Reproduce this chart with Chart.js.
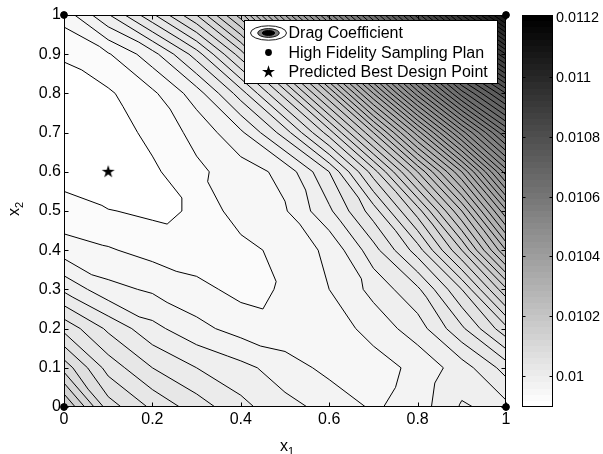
<!DOCTYPE html>
<html>
<head>
<meta charset="utf-8">
<script src="https://cdn.jsdelivr.net/npm/chart.js@4.4.1/dist/chart.umd.min.js"></script>
<style>
  html, body { margin: 0; padding: 0; background: #fff; }
  #wrap { width: 603px; height: 454px; }
</style>
</head>
<body>
<div id="wrap"><canvas id="cdChart" width="603" height="454"></canvas></div>
<script>
/* ── Data ───────────────────────────────────────────────────── */

// Kriging grid for the drag coefficient, one row per x2 value (x2 = 0 first)
const gridX = [0, 0.1, 0.2, 0.3, 0.4, 0.5, 0.6, 0.7, 0.8, 0.9, 1];
const gridY = [0, 0.1, 0.2, 0.3, 0.4, 0.5, 0.6, 0.7, 0.8, 0.9, 1];
const cdRows = [
  [0.010184, 0.010090, 0.010056, 0.010030, 0.010006, 0.009986, 0.009974, 0.009957, 0.009970, 0.010002, 0.009994],
  [0.010112, 0.010052, 0.010020, 0.010000, 0.009986, 0.009970, 0.009954, 0.009950, 0.009966, 0.009990, 0.010028],
  [0.010054, 0.010016, 0.009986, 0.009966, 0.009952, 0.009946, 0.009948, 0.009968, 0.009990, 0.010036, 0.010094],
  [0.009996, 0.009966, 0.009957, 0.009946, 0.009934, 0.009942, 0.009960, 0.009986, 0.010016, 0.010080, 0.010176],
  [0.009950, 0.009942, 0.009933, 0.009928, 0.009932, 0.009948, 0.009964, 0.010012, 0.010070, 0.010160, 0.010280],
  [0.009926, 0.009921, 0.009916, 0.009922, 0.009952, 0.009958, 0.009996, 0.010050, 0.010130, 0.010240, 0.010376],
  [0.009914, 0.009900, 0.009916, 0.009936, 0.009950, 0.009966, 0.010020, 0.010110, 0.010220, 0.010340, 0.010490],
  [0.009910, 0.009908, 0.009926, 0.009946, 0.009976, 0.010030, 0.010110, 0.010220, 0.010350, 0.010490, 0.010620],
  [0.009912, 0.009917, 0.009936, 0.009970, 0.010030, 0.010110, 0.010220, 0.010360, 0.010510, 0.010650, 0.010760],
  [0.009922, 0.009938, 0.009972, 0.010030, 0.010110, 0.010220, 0.010360, 0.010510, 0.010660, 0.010800, 0.010920],
  [0.009948, 0.009998, 0.010056, 0.010120, 0.010210, 0.010360, 0.010510, 0.010660, 0.010810, 0.010960, 0.011100],
];

// contour levels and colour limits
const levelStart = 0.00992;
const levelStep = 0.00002;
const levelCount = 65;
const cbMin = 0.009897;
const cbMax = 0.011207;
const cbTicks = [0.01, 0.0102, 0.0104, 0.0106, 0.0108, 0.011, 0.0112];
const cbTickLabels = ["0.01", "0.0102", "0.0104", "0.0106", "0.0108", "0.011", "0.0112"];

const xTicks = [0, 0.2, 0.4, 0.6, 0.8, 1];
const yTicks = [0, 0.1, 0.2, 0.3, 0.4, 0.5, 0.6, 0.7, 0.8, 0.9, 1];

const samplingX = [0, 0, 1, 1];
const samplingY = [0, 1, 0, 1];
const bestX = [0.1];
const bestY = [0.6];

const seriesLabels = ["Drag Coefficient", "High Fidelity Sampling Plan", "Predicted Best Design Point"];

const FONT = "'Liberation Sans', Arial, Helvetica, sans-serif";

/* ── Helpers ────────────────────────────────────────────────── */

// flipped 64-step gray map: white at the low end, black at the top
function shade(v) {
  let idx = Math.floor((v - cbMin) / (cbMax - cbMin) * 64);
  idx = Math.max(0, Math.min(63, idx));
  const g = Math.round(255 * (63 - idx) / 63);
  return `rgb(${g},${g},${g})`;
}

function traceStar(g, cx, cy, outer) {
  const inner = outer * 0.382;
  g.beginPath();
  for (let i = 0; i < 10; i++) {
    const r = i % 2 ? inner : outer;
    const a = -Math.PI / 2 + i * Math.PI / 5;
    const px = cx + r * Math.cos(a), py = cy + r * Math.sin(a);
    if (i) g.lineTo(px, py); else g.moveTo(px, py);
  }
  g.closePath();
}

function makeStar(outer) {
  const size = Math.ceil(outer * 2) + 2;
  const c = document.createElement("canvas");
  c.width = size; c.height = size;
  const g = c.getContext("2d");
  traceStar(g, size / 2, size / 2, outer);
  g.fillStyle = "#000";
  g.fill();
  return c;
}

// grid cells split into two triangles along the anti-diagonal, in pixels
function buildTriangles(xs, ys) {
  const pt = (i, j) => ({ x: xs.getPixelForValue(gridX[i]), y: ys.getPixelForValue(gridY[j]), v: cdRows[j][i] });
  const tris = [];
  for (let j = 0; j < gridY.length - 1; j++) {
    for (let i = 0; i < gridX.length - 1; i++) {
      const p00 = pt(i, j), p10 = pt(i + 1, j), p11 = pt(i + 1, j + 1), p01 = pt(i, j + 1);
      tris.push([p00, p10, p01], [p10, p11, p01]);
    }
  }
  return tris;
}

// part of a triangle where the value is at or above the level
function clipAbove(poly, level) {
  const out = [];
  for (let n = 0; n < poly.length; n++) {
    const a = poly[n], b = poly[(n + 1) % poly.length];
    const ain = a.v >= level, bin = b.v >= level;
    if (ain) out.push(a);
    if (ain !== bin) {
      const t = (level - a.v) / (b.v - a.v);
      out.push({ x: a.x + t * (b.x - a.x), y: a.y + t * (b.y - a.y), v: level });
    }
  }
  return out;
}

function crossings(tri, level) {
  const pts = [];
  for (let n = 0; n < 3; n++) {
    const a = tri[n], b = tri[(n + 1) % 3];
    if ((a.v >= level) !== (b.v >= level)) {
      const t = (level - a.v) / (b.v - a.v);
      pts.push([a.x + t * (b.x - a.x), a.y + t * (b.y - a.y)]);
    }
  }
  return pts;
}

/* ── Plugins ────────────────────────────────────────────────── */

const contourPlugin = {
  id: "contourFill",
  beforeDatasetsDraw(chart) {
    const { ctx, chartArea: a, scales: { x, y } } = chart;
    const tris = buildTriangles(x, y);
    const levels = [];
    for (let m = 0; m < levelCount; m++) levels.push(levelStart + m * levelStep);

    ctx.save();
    ctx.beginPath();
    ctx.rect(a.left, a.top, a.width, a.height);
    ctx.clip();

    ctx.fillStyle = shade(cbMin);
    ctx.fillRect(a.left, a.top, a.width, a.height);

    // filled bands, each level painted over the one below
    levels.forEach(L => {
      ctx.beginPath();
      let any = false;
      tris.forEach(t => {
        const p = clipAbove(t, L);
        if (p.length < 3) return;
        ctx.moveTo(p[0].x, p[0].y);
        for (let k = 1; k < p.length; k++) ctx.lineTo(p[k].x, p[k].y);
        ctx.closePath();
        any = true;
      });
      if (any) {
        ctx.fillStyle = shade(L + 1e-9);
        ctx.fill();
      }
    });

    // contour lines
    ctx.beginPath();
    levels.forEach(L => {
      tris.forEach(t => {
        const c = crossings(t, L);
        if (c.length === 2) {
          ctx.moveTo(c[0][0], c[0][1]);
          ctx.lineTo(c[1][0], c[1][1]);
        }
      });
    });
    ctx.lineWidth = 1;
    ctx.strokeStyle = "#000";
    ctx.stroke();
    ctx.restore();

    // axes box with inward ticks
    ctx.save();
    ctx.strokeStyle = "#000";
    ctx.lineWidth = 1;
    const L0 = Math.round(a.left) + 0.5, R0 = Math.round(a.right) - 0.5;
    const T0 = Math.round(a.top) + 0.5, B0 = Math.round(a.bottom) - 0.5;
    ctx.strokeRect(L0, T0, R0 - L0, B0 - T0);
    ctx.beginPath();
    xTicks.forEach(v => {
      const px = Math.round(x.getPixelForValue(v)) + 0.5;
      ctx.moveTo(px, B0); ctx.lineTo(px, B0 - 4);
      ctx.moveTo(px, T0); ctx.lineTo(px, T0 + 4);
    });
    yTicks.forEach(v => {
      const py = Math.round(y.getPixelForValue(v)) + 0.5;
      ctx.moveTo(L0, py); ctx.lineTo(L0 + 4, py);
      ctx.moveTo(R0, py); ctx.lineTo(R0 - 4, py);
    });
    ctx.stroke();
    ctx.restore();
  },

  afterDraw(chart) {
    const { ctx, chartArea: a } = chart;
    const cb = chart.scales.cb;
    ctx.save();

    /* colour bar */
    const cbLeft = Math.round(a.right) + 16;
    const cbW = 31;
    for (let i = 0; i < 64; i++) {
      const v0 = cbMin + (cbMax - cbMin) * i / 64;
      const v1 = cbMin + (cbMax - cbMin) * (i + 1) / 64;
      const yTop = Math.round(cb.getPixelForValue(v1));
      const yBot = Math.round(cb.getPixelForValue(v0));
      ctx.fillStyle = shade(v0 + 1e-9);
      ctx.fillRect(cbLeft, yTop, cbW, yBot - yTop);
    }
    const cbTop = Math.round(cb.getPixelForValue(cbMax)) + 0.5;
    const cbBot = Math.round(cb.getPixelForValue(cbMin)) - 0.5;
    ctx.strokeStyle = "#000";
    ctx.lineWidth = 1;
    ctx.strokeRect(cbLeft + 0.5, cbTop, cbW - 1, cbBot - cbTop);
    ctx.beginPath();
    cbTicks.forEach(v => {
      const py = Math.round(cb.getPixelForValue(v)) + 0.5;
      ctx.moveTo(cbLeft + 0.5, py); ctx.lineTo(cbLeft + 3.5, py);
      ctx.moveTo(cbLeft + cbW - 0.5, py); ctx.lineTo(cbLeft + cbW - 3.5, py);
    });
    ctx.stroke();
    ctx.fillStyle = "#000";
    ctx.font = `14.4px ${FONT}`;
    ctx.textAlign = "left";
    ctx.textBaseline = "middle";
    cbTicks.forEach((v, i) => {
      ctx.fillText(cbTickLabels[i], cbLeft + cbW + 3, cb.getPixelForValue(v) + 1);
    });

    /* axis titles */
    const cx = (a.left + a.right) / 2;
    ctx.textBaseline = "alphabetic";
    ctx.font = `16px ${FONT}`;
    ctx.textAlign = "right";
    ctx.fillText("x", cx + 3, 451);
    ctx.font = `11px ${FONT}`;
    ctx.textAlign = "left";
    ctx.fillText("1", cx + 3, 455);

    ctx.save();
    ctx.translate(19, (a.top + a.bottom) / 2);
    ctx.rotate(-Math.PI / 2);
    ctx.font = `16px ${FONT}`;
    ctx.textAlign = "right";
    ctx.fillText("x", 3, 0);
    ctx.font = `11px ${FONT}`;
    ctx.textAlign = "left";
    ctx.fillText("2", 3, 4);
    ctx.restore();

    /* legend */
    const bx = Math.round(a.right) - 261.5, by = Math.round(a.top) + 5.5;
    const bw = 253, bh = 63;
    ctx.fillStyle = "#fff";
    ctx.fillRect(bx, by, bw, bh);
    ctx.strokeStyle = "#000";
    ctx.lineWidth = 1;
    ctx.strokeRect(bx, by, bw, bh);

    const iconX = bx + 24;
    const rowY = [by + 12.5, by + 32, by + 51.5];

    // contour icon: nested rings
    [[18, 7.2, "#ffffff"], [10.8, 4.4, "#7c7c7c"], [6.2, 2.5, "#000000"]].forEach(([rx, ry, fill]) => {
      ctx.beginPath();
      ctx.ellipse(iconX, rowY[0], rx, ry, 0, 0, Math.PI * 2);
      ctx.fillStyle = fill;
      ctx.fill();
      ctx.strokeStyle = "#000";
      ctx.lineWidth = 0.9;
      ctx.stroke();
    });

    ctx.beginPath();
    ctx.arc(iconX, rowY[1], 3.4, 0, Math.PI * 2);
    ctx.fillStyle = "#000";
    ctx.fill();

    traceStar(ctx, iconX, rowY[2], 6.8);
    ctx.fill();

    ctx.font = `16px ${FONT}`;
    ctx.textAlign = "left";
    ctx.textBaseline = "middle";
    chart.data.datasets.forEach((d, i) => {
      ctx.fillText(d.label, bx + 44, rowY[i] + 1);
    });

    ctx.restore();
  }
};

/* ── Chart ──────────────────────────────────────────────────── */

const ctx = document.getElementById("cdChart");

new Chart(ctx, {
  type: "scatter",
  data: {
    datasets: [
      { label: seriesLabels[0], data: [] },
      {
        label: seriesLabels[1],
        data: samplingX.map((v, i) => ({ x: v, y: samplingY[i] })),
        pointRadius: 3.4,
        pointBackgroundColor: "#000",
        pointBorderColor: "#000",
        clip: false,
      },
      {
        label: seriesLabels[2],
        data: bestX.map((v, i) => ({ x: v, y: bestY[i] })),
        pointStyle: makeStar(6.8),
        clip: false,
      },
    ],
  },
  options: {
    responsive: false,
    animation: false,
    devicePixelRatio: 1,
    events: [],
    layout: { padding: { top: 15, right: 97, left: 0, bottom: 0 } },
    plugins: { legend: { display: false }, tooltip: { enabled: false } },
    scales: {
      x: {
        type: "linear", min: 0, max: 1,
        grid: { display: false, drawTicks: false },
        border: { display: false },
        afterBuildTicks: s => { s.ticks = xTicks.map(v => ({ value: v })); },
        afterFit: s => { s.height = 47; },
        ticks: {
          autoSkip: false, maxRotation: 0, padding: 3, color: "#000",
          font: { family: FONT, size: 16 },
          callback: v => String(v),
        },
      },
      y: {
        type: "linear", min: 0, max: 1,
        grid: { display: false, drawTicks: false },
        border: { display: false },
        afterBuildTicks: s => { s.ticks = yTicks.map(v => ({ value: v })); },
        afterFit: s => { s.width = 64; },
        ticks: {
          autoSkip: false, padding: 3, color: "#000",
          font: { family: FONT, size: 16 },
          callback: v => String(v),
        },
      },
      cb: { type: "linear", display: false, position: "right", min: cbMin, max: cbMax },
    },
  },
  plugins: [contourPlugin],
});
</script>
</body>
</html>
